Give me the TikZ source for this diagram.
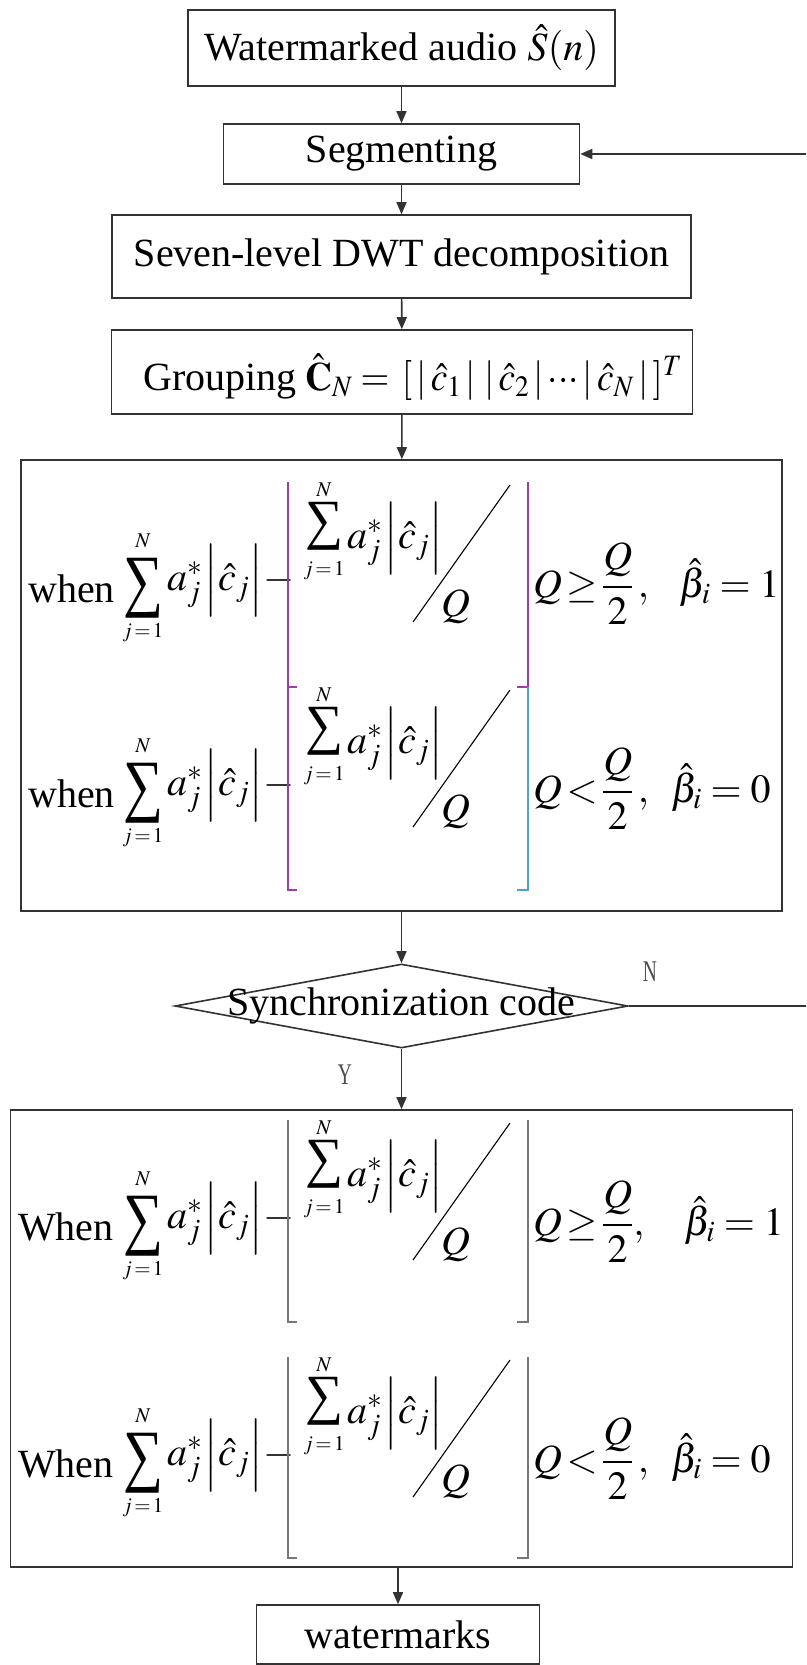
\documentclass[tikz,border=0pt]{standalone}
\usepackage{amsmath}
\usepackage{mathptmx}
\usepackage[no-math]{fontspec}
\setmainfont{Liberation Serif}
\usepackage{graphicx}
\usetikzlibrary{arrows.meta,shapes.geometric}
\definecolor{linec}{HTML}{333333}
\definecolor{brkpurple}{HTML}{9A3FA6}
\definecolor{brkcyan}{HTML}{4FA3C8}
\definecolor{brkgray}{HTML}{777777}
\newcommand\tightmath{\thickmuskip=4mu\relax\medmuskip=3mu\relax}
\newcommand\sumglyph{\char"2211\relax}
% sum glyph with its limits: name, cx, cy, width, height, N cy, j cy
\newcommand\sumblk[7]{%
  \node[inner sep=0pt] (#1sum) at (#2,#3) {\resizebox*{#4pt}{#5pt}{\sumglyph}};
  \node[lim] (#1N) at (#2,#6) {$N$};
  \node[lim] (#1j) at (#2,#7) {$j\mkern-2mu=\mkern-2mu1$};
}
% one formula line: name, top, bottom, word, word x, right part, left colour, right colour
\newcommand\fmline[8]{%
  \node[txt, anchor=base west] (#1w) at (#5,#2+120) {#4};
  \sumblk{#1o}{143}{#2+106}{40}{60}{#2+59}{#2+151}
  \node[txt, anchor=base west] (#1oa) at (167,#2+108) {$a_j^{*}\mkern1mu\Bigl|\hat c_j\Bigr|\mathord{-}$};
  \draw[brk,#7] (288,#2) -- (288,#3) -- (297,#3);
  \sumblk{#1i}{324}{#2+44}{38}{48}{#2+8}{#2+89}
  \node[txt, anchor=base west] (#1ia) at (347,#2+66) {$a_j^{*}\mkern1mu\Bigl|\hat c_j\Bigr|$};
  \draw[slash] (510,#2+3) -- (413,#2+140);
  \node[txt, anchor=base west] (#1q) at (441,#2+134) {$Q$};
  \draw[brk,#8] (528,#2) -- (528,#3) -- (517,#3);
  \node[txt, anchor=base west] (#1r) at (533,#2+115) {#6};
}
\begin{document}
\begin{tikzpicture}[x=1pt,y=-1pt,
  box/.style={draw=linec, line width=1.6pt, fill=white, inner sep=0pt},
  conn/.style={draw=linec, line width=1.6pt, -{Triangle[length=12pt,width=10pt]}},
  txt/.style={font=\fontsize{40}{48}\selectfont, execute at begin node=\tightmath, inner sep=0pt},
  lim/.style={font=\fontsize{21}{22}\selectfont, inner sep=0pt},
  brk/.style={line width=1.2pt},
  slash/.style={line width=1.1pt, black},
  lbl/.style={font=\fontsize{30}{32}\selectfont, inner sep=0pt, text=black!70},
]
\useasboundingbox (0,0) rectangle (806,1665);
\clip (0,0) rectangle (806,1665);
\fill[white] (0,0) rectangle (806,1665);

\node[box, txt, minimum width=427pt, minimum height=76pt] (b1) at (401.5,48) {Watermarked audio $\hat{S}(n)$};
\node[box, txt, minimum width=356pt, minimum height=60pt] (seg) at (401.5,154) {Segmenting};
\node[box, txt, minimum width=579pt, minimum height=83pt] (dwt) at (401.5,256.5) {Seven-level DWT decomposition};
\node[box, minimum width=581pt, minimum height=84pt] (grp) at (402,372) {};
\node[txt, anchor=base west] (grpw) at (143,390) {Grouping};
\node[txt, anchor=base west] (grpm) at (305,390) {\resizebox{377pt}{\height}{$\hat{\mathbf{C}}_N=\mkern2mu[\,|\,\hat c_1\,|\;|\,\hat c_2\,|\mkern2mu{\cdot}{\cdot}{\cdot}\mkern2mu|\,\hat c_N\,|\,]^T$}};
\node[box, minimum width=761pt, minimum height=451pt] (f1) at (401.5,685.5) {};
\node[draw=linec, line width=1.6pt, diamond, aspect=5.4, inner sep=0pt, minimum width=453pt, minimum height=84pt] (dia) at (401.5,1006) {};
\node[txt] (sync) at (401.5,1006) {Synchronization code};
\node[box, minimum width=782pt, minimum height=457pt] (f2) at (401.5,1338.5) {};
\node[box, txt, minimum width=283pt, minimum height=59pt] (wm) at (398,1634.5) {watermarks};

\node[lbl] (nlab) at (650,972) {\scalebox{0.65}[1]{N}};
\node[lbl] (ylab) at (345,1075) {\scalebox{0.65}[1]{Y}};

\draw[conn] (b1) -- (seg);
\draw[conn] (seg) -- (dwt);
\draw[conn] (dwt) -- (grp);
\draw[conn] (grp) -- (f1);
\draw[conn] (f1) -- (dia);
\draw[conn] (dia) -- (f2);
\draw[conn] (f2.south -| wm.north) -- (wm.north);
\coordinate (fb) at (830,1006);
\draw[conn] (dia.east) -- (fb) |- (seg.east);

\fmline{a}{482}{687}{when}{28}{$Q\!\geq\!\dfrac{Q}{2}\,,\;\;\;\hat{\beta}_i=1$}{brkpurple}{brkpurple}
\fmline{b}{687}{890}{when}{28}{$Q\!<\!\dfrac{Q}{2}\,,\;\;\hat{\beta}_i=0$}{brkpurple}{brkcyan}
\fmline{c}{1120}{1322}{When}{18}{$Q\!\geq\!\dfrac{Q}{2},\;\;\;\;\hat{\beta}_i=1$}{brkgray}{brkgray}
\fmline{d}{1357}{1558}{When}{18}{$Q\!<\!\dfrac{Q}{2}\,,\;\;\hat{\beta}_i=0$}{brkgray}{brkgray}
\end{tikzpicture}
\end{document}
